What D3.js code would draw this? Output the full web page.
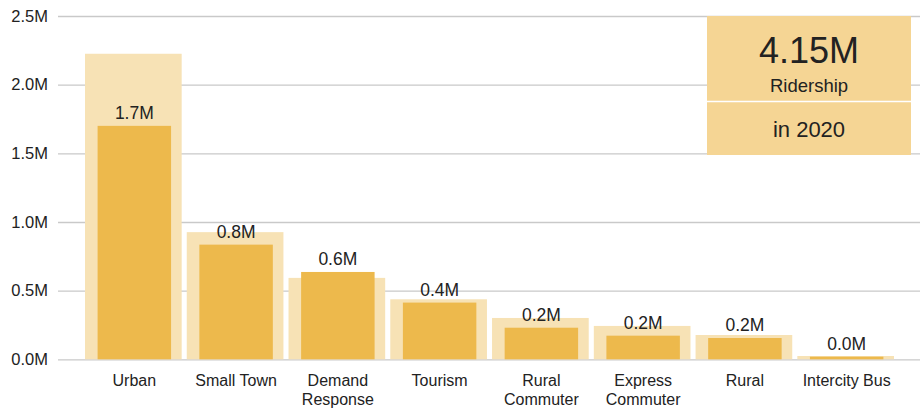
<!DOCTYPE html>
<html>
<head>
<meta charset="utf-8">
<script src="https://cdn.jsdelivr.net/npm/d3@7"></script>
<style>
    body { margin: 0; background: #fff; }
    svg text { font-family: 'Liberation Sans', Arial, sans-serif; fill: #222; }
</style>
</head>
<body>
<svg id="ridership-chart" width="923" height="410"></svg>
<script>
// categories and values (millions of riders)
const categories = ['Urban', 'Small Town', 'Demand Response', 'Tourism', 'Rural Commuter', 'Express Commuter', 'Rural', 'Intercity Bus'];
const categoryLines = [['Urban'], ['Small Town'], ['Demand', 'Response'], ['Tourism'], ['Rural', 'Commuter'], ['Express', 'Commuter'], ['Rural'], ['Intercity Bus']];
const prevValues = [2.225, 0.926, 0.593, 0.437, 0.301, 0.243, 0.177, 0.024];
const values2020 = [1.70, 0.835, 0.636, 0.413, 0.23, 0.172, 0.155, 0.019];
const yTicks = [0, 0.5, 1.0, 1.5, 2.0, 2.5];
const totalLabel = '4.15M';
const totalSub = 'Ridership';
const yearLabel = 'in 2020';

const svg = d3.select('#ridership-chart');

const DIM = { width: 923, height: 410, top: 16, bottom: 359.3, left: 58, right: 920 };

const x = d3.scaleBand()
    .domain(categories)
    .range([85, 894])
    .paddingInner(0.05)
    .paddingOuter(0);
const y = d3.scaleLinear()
    .domain([0, 2.5])
    .range([DIM.bottom, DIM.top]);

// grid lines + y tick labels
const yAxis = d3.axisLeft(y)
    .tickValues(yTicks)
    .tickSize(-(DIM.right - DIM.left))
    .tickPadding(10)
    .tickFormat(d => d3.format('.1f')(d) + 'M');
const yG = svg.append('g')
    .attr('transform', `translate(${DIM.left},0)`)
    .call(yAxis);
yG.select('.domain').remove();
yG.selectAll('.tick line').attr('stroke', '#c9c9c9').attr('stroke-width', 1.3);
yG.selectAll('.tick text').attr('font-size', 16.5).attr('fill', '#222');

// light (background) bars
svg.selectAll('.bar-prev')
    .data(categories)
    .join('rect')
    .attr('class', 'bar-prev')
    .attr('x', d => x(d))
    .attr('width', x.bandwidth())
    .attr('y', (d, i) => y(prevValues[i]))
    .attr('height', (d, i) => y(0) - y(prevValues[i]))
    .attr('fill', '#f7e2b5');

// dark (2020) bars
const inner = x.bandwidth() * 0.76;
svg.selectAll('.bar-cur')
    .data(categories)
    .join('rect')
    .attr('class', 'bar-cur')
    .attr('x', d => x(d) + (x.bandwidth() - inner) / 2 + 1)
    .attr('width', inner)
    .attr('y', (d, i) => y(values2020[i]))
    .attr('height', (d, i) => y(0) - y(values2020[i]))
    .attr('fill', '#edb94c');

// value labels
svg.selectAll('.val-label')
    .data(categories)
    .join('text')
    .attr('class', 'val-label')
    .attr('x', d => x(d) + x.bandwidth() / 2 + 1)
    .attr('y', (d, i) => y(values2020[i]) - 7)
    .attr('text-anchor', 'middle')
    .attr('font-size', 17.5)
    .text((d, i) => d3.format('.1f')(values2020[i]) + 'M');

// category labels
const catG = svg.selectAll('.cat-label')
    .data(categories)
    .join('text')
    .attr('class', 'cat-label')
    .attr('x', d => x(d) + x.bandwidth() / 2 + 1)
    .attr('y', 386)
    .attr('text-anchor', 'middle')
    .attr('font-size', 16);
catG.selectAll('tspan')
    .data((d, i) => categoryLines[i])
    .join('tspan')
    .attr('x', function () { return d3.select(this.parentNode).attr('x'); })
    .attr('dy', (d, i) => i === 0 ? 0 : 19)
    .text(d => d);

// summary box
const box = { x0: 707, x1: 911, y0: 16, ymid: 101.5, y1: 155 };
svg.append('rect')
    .attr('x', box.x0).attr('y', box.y0)
    .attr('width', box.x1 - box.x0).attr('height', box.y1 - box.y0)
    .attr('fill', '#f5d594');
svg.append('line')
    .attr('x1', box.x0).attr('x2', box.x1)
    .attr('y1', box.ymid).attr('y2', box.ymid)
    .attr('stroke', '#fff').attr('stroke-width', 1.5);
const cx = (box.x0 + box.x1) / 2;
svg.append('text')
    .attr('x', cx).attr('y', 63)
    .attr('text-anchor', 'middle')
    .attr('font-size', 36)
    .text(totalLabel);
svg.append('text')
    .attr('x', cx).attr('y', 92)
    .attr('text-anchor', 'middle')
    .attr('font-size', 18.5)
    .text(totalSub);
svg.append('text')
    .attr('x', cx).attr('y', 137)
    .attr('text-anchor', 'middle')
    .attr('font-size', 22)
    .text(yearLabel);
</script>
</body>
</html>
